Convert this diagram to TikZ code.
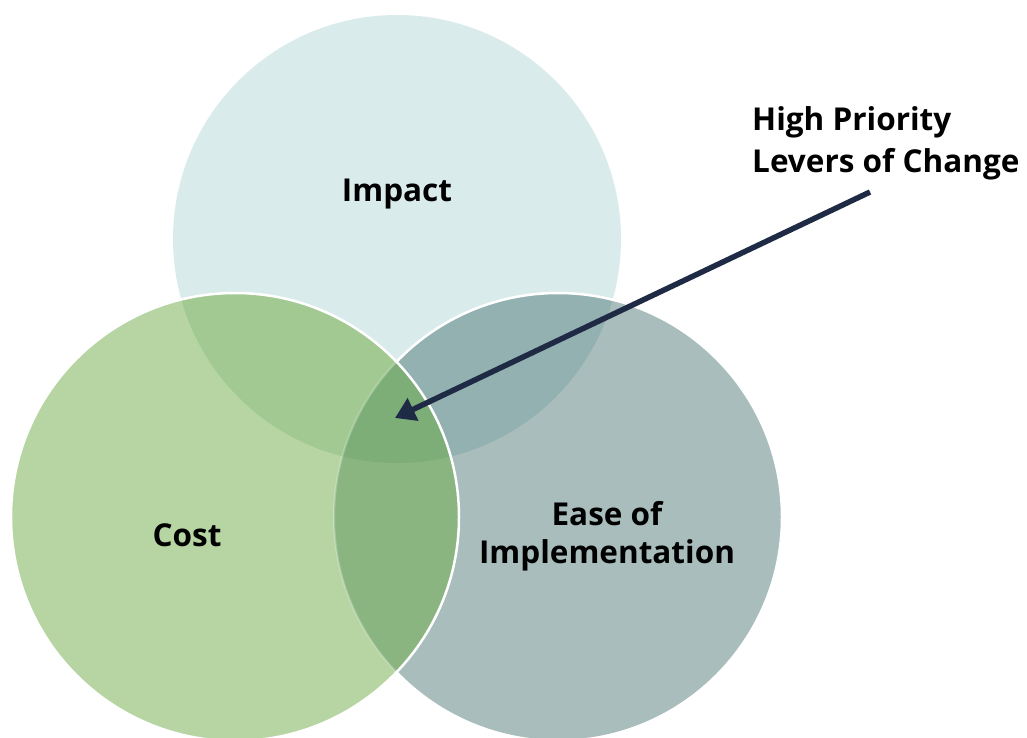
\documentclass[tikz,border=0pt]{standalone}
\usepackage{fontspec}
\setmainfont{Open Sans}
\usetikzlibrary{arrows.meta}
\definecolor{impactfill}{HTML}{DAEBEB}
\definecolor{costfill}{HTML}{B6D5A3}
\definecolor{easefill}{HTML}{A8BDBC}
\definecolor{impcost}{HTML}{A3C993}
\definecolor{impease}{HTML}{94B1B1}
\definecolor{costease}{HTML}{8AB581}
\definecolor{allthree}{HTML}{7DAE77}
\definecolor{arrowcol}{HTML}{1F2B45}
\tikzset{
  label/.style={font=\bfseries\fontsize{31.5}{38}\selectfont, text=black, align=center, inner sep=0pt},
  rim/.style={draw=white, line width=2.5pt},
  pointer/.style={draw=arrowcol, line width=5.5pt, -{Triangle[length=20pt,width=24pt]}}
}
\begin{document}
\begin{tikzpicture}[x=1pt,y=-1pt]
\useasboundingbox (0,0) rectangle (1027,738);
\def\R{224}
% circle centres
\coordinate (ci) at (397,239);
\coordinate (cc) at (235,517);
\coordinate (ce) at (558,517);
% Impact
\fill[impactfill] (ci) circle (\R);
% Ease of Implementation, with the part under Impact darker
\fill[easefill] (ce) circle (\R);
\begin{scope}
  \clip (ce) circle (\R);
  \fill[impease] (ci) circle (\R);
\end{scope}
\draw[rim] (ce) circle (\R);
% Cost, with its overlaps
\fill[costfill] (cc) circle (\R);
\begin{scope}
  \clip (cc) circle (\R);
  \fill[impcost] (ci) circle (\R);
  \fill[costease] (ce) circle (\R);
  \clip (ce) circle (\R);
  \fill[allthree] (ci) circle (\R);
\end{scope}
\begin{scope}
  \clip (cc) circle (\R);
  \draw[white, opacity=0.25, line width=2pt] (ce) circle (\R);
\end{scope}
\draw[rim] (cc) circle (\R);
% labels
\node[label] (impact) at (397,194) {Impact};
\node[label] (cost) at (187,535) {Cost};
\node[label] (ease) at (607,536) {Ease of\\Implementation};
\node[label, align=left, anchor=west, font=\bfseries\fontsize{31.5}{42}\selectfont] (lever) at (752,143) {High Priority\\Levers of Change};
% pointer into the centre
\coordinate (tail) at (870,192);
\coordinate (core) at (395,418);
\draw[pointer] (tail) -- (core);
\end{tikzpicture}
\end{document}
